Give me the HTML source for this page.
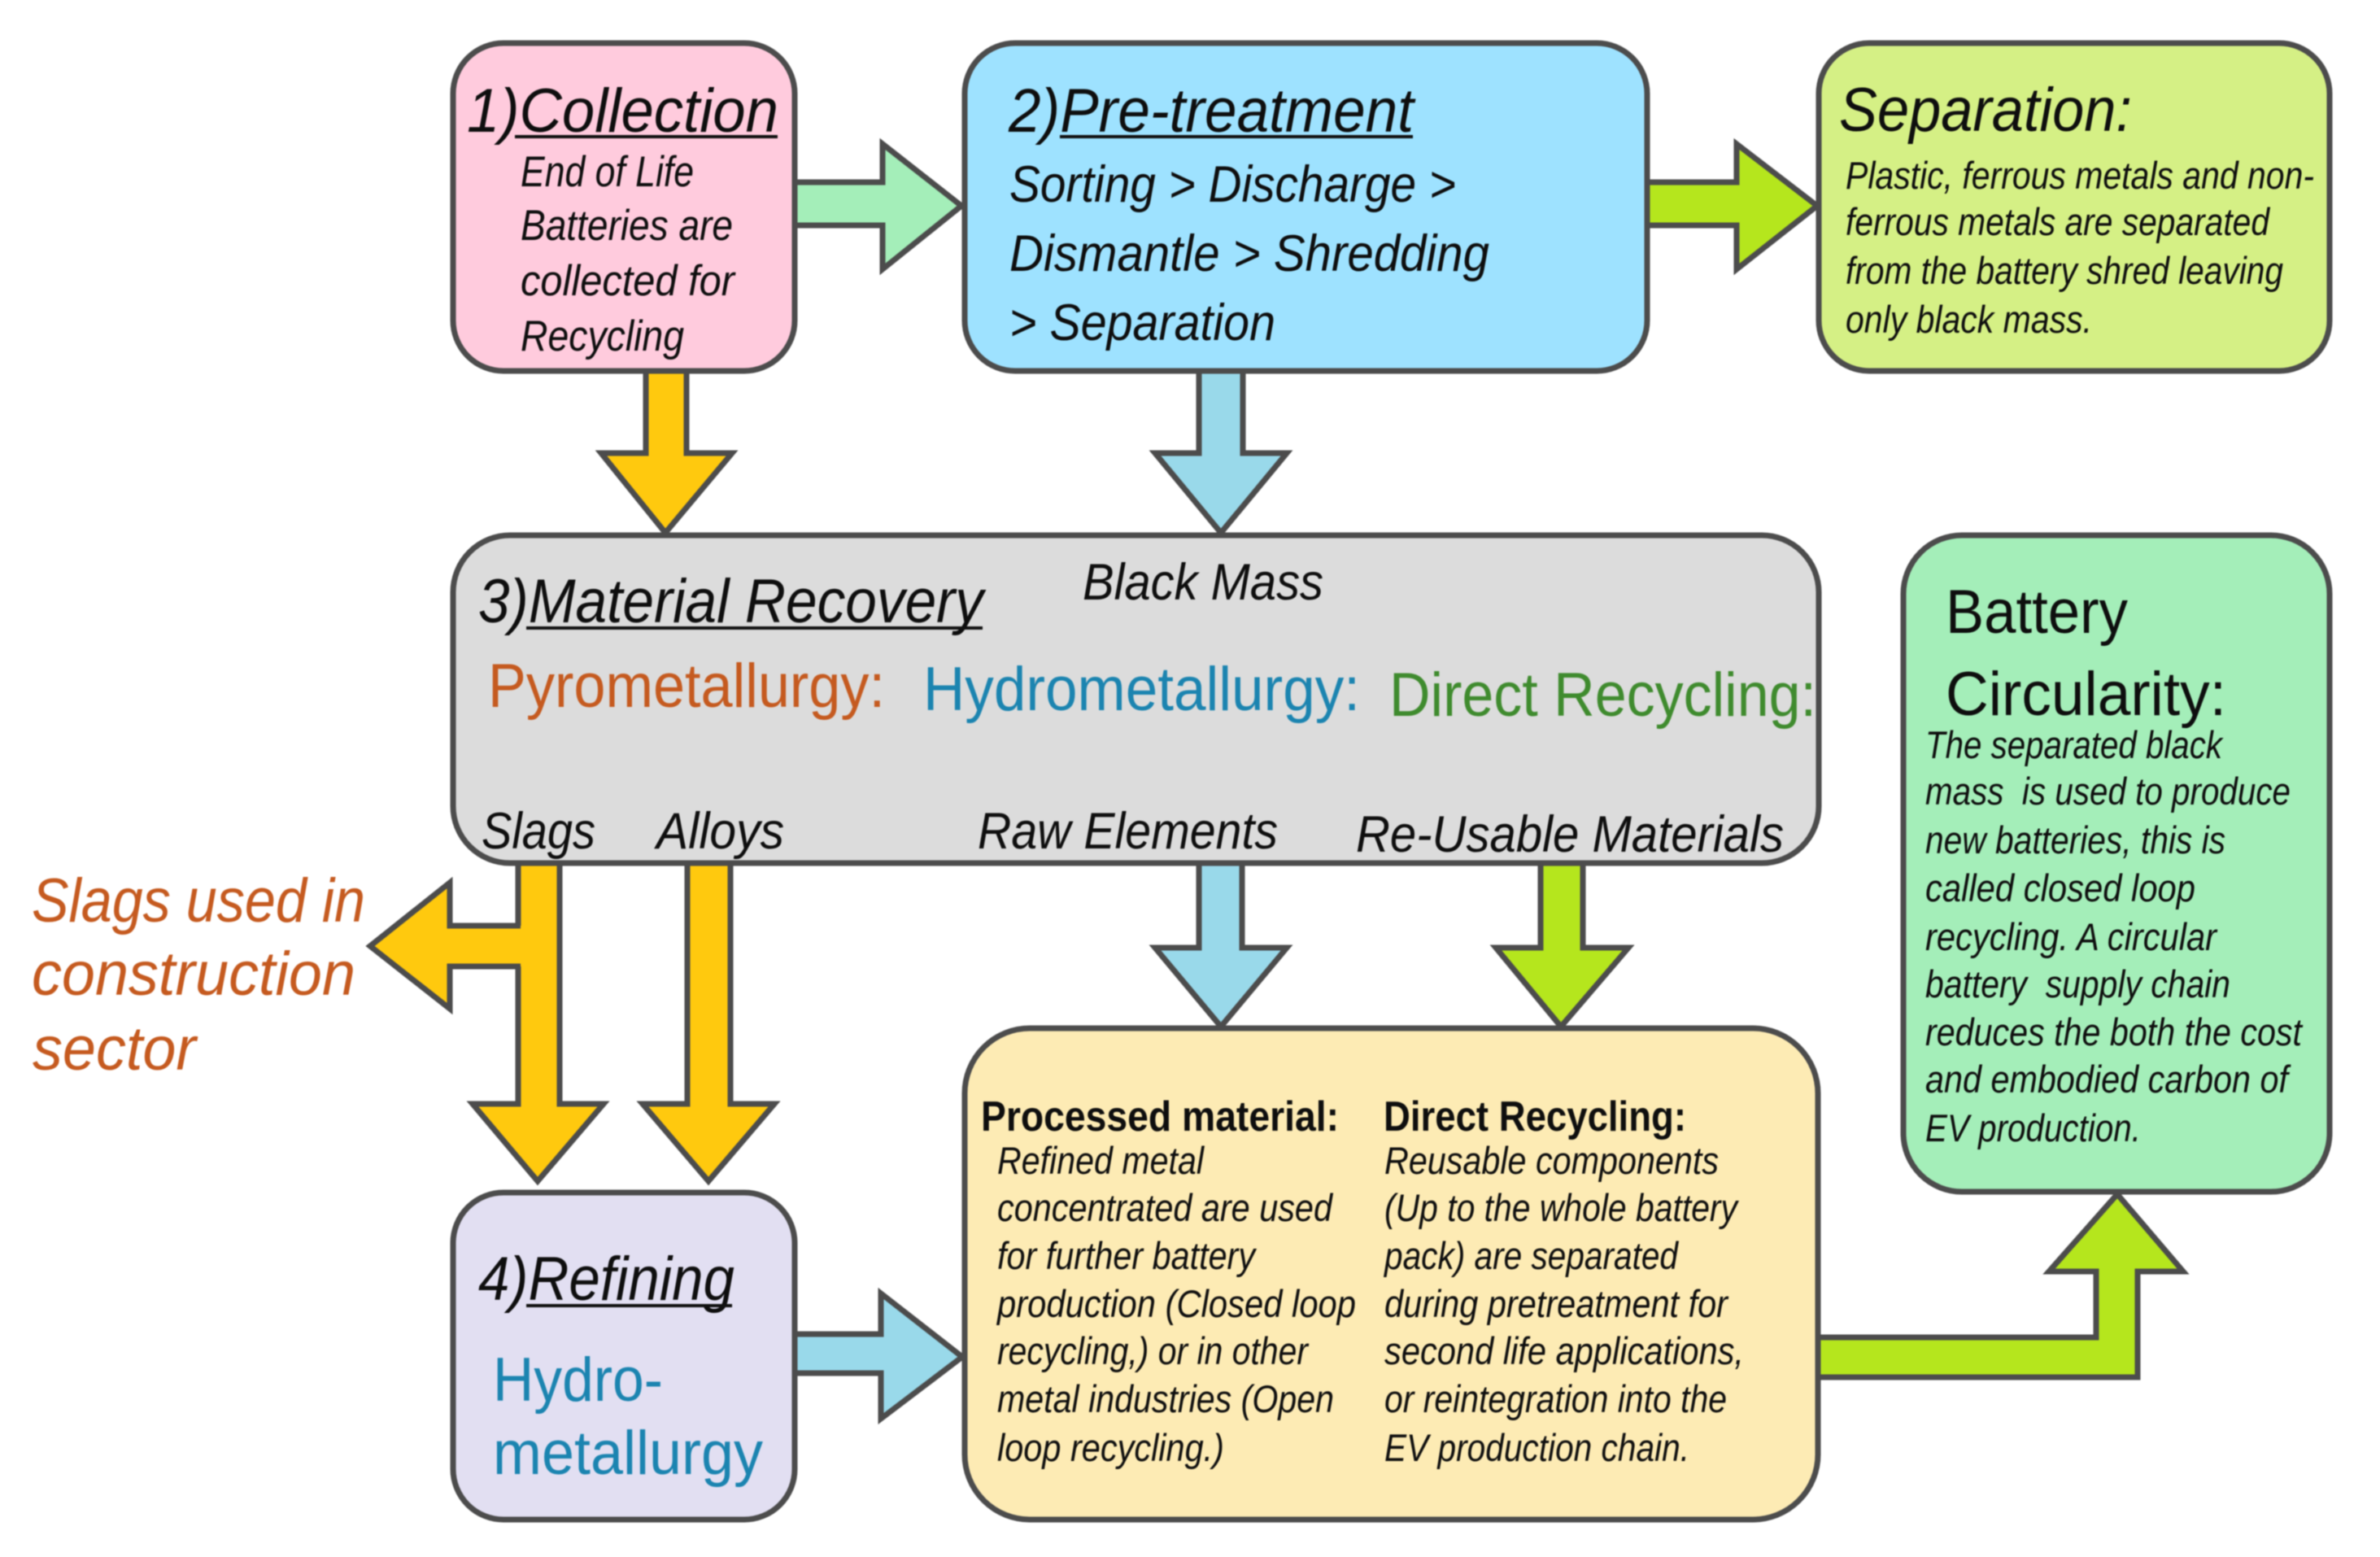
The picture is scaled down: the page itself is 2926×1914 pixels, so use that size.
<!DOCTYPE html>
<html lang="en">
<head>
<meta charset="utf-8">
<title>Battery recycling process</title>
<style>
html,body{margin:0;padding:0;background:#fff;width:2926px;height:1914px;overflow:hidden}
svg{display:block;filter:blur(.8px)}
text{font-family:"Liberation Sans",sans-serif;fill:#0e0e0e;white-space:pre}
.i{font-style:italic}
.h{font-size:76px;font-style:italic}
.m{font-size:63px;font-style:italic}
.s{font-size:53px;font-style:italic}
.t{font-size:47px;font-style:italic}
.a{stroke:#4c4c4c;stroke-width:7;stroke-linejoin:miter}
.b{stroke:#4c4c4c;stroke-width:7}
.u{stroke:#111;stroke-width:4}
</style>
</head>
<body>
<svg width="2926" height="1914" viewBox="0 0 2926 1914" xmlns="http://www.w3.org/2000/svg">
<rect width="2926" height="1914" fill="#fff"/>

<!-- arrows -->
<polygon class="a" fill="#A4EEB9" points="977,224 1085,224 1085,177 1182,253 1085,331 1085,277 977,277"/>
<polygon class="a" fill="#B5E61D" points="2025,224 2135,224 2135,177 2234,253 2135,331 2135,277 2025,277"/>
<polygon class="a" fill="#FFC90E" points="794,456 844,456 844,557 900,557 818,655 739,557 794,557"/>
<polygon class="a" fill="#99D9EA" points="1474,456 1528,456 1528,557 1582,557 1501,655 1420,557 1474,557"/>
<polygon class="a" fill="#FFC90E" points="637,1060 688,1060 688,1357 742,1357 661,1452 581,1357 637,1357"/>
<polygon class="a" fill="#FFC90E" points="845,1060 898,1060 898,1357 952,1357 871,1452 790,1357 845,1357"/>
<polygon fill="#FFC90E" points="645,1138 553,1138 553,1085 455,1163 553,1240 553,1188 645,1188"/>
<polyline class="a" fill="none" points="640,1138 553,1138 553,1085 455,1163 553,1240 553,1188 640,1188"/>
<polygon class="a" fill="#99D9EA" points="977,1640 1083,1640 1083,1590 1183,1668 1083,1744 1083,1688 977,1688"/>
<polygon class="a" fill="#99D9EA" points="1474,1060 1527,1060 1527,1165 1582,1165 1501,1262 1420,1165 1474,1165"/>
<polygon class="a" fill="#B5E61D" points="1894,1060 1946,1060 1946,1165 2002,1165 1919,1262 1839,1165 1894,1165"/>
<polygon class="a" fill="#B5E61D" points="2235,1644 2577,1644 2577,1563 2519,1563 2603,1468 2684,1563 2628,1563 2628,1693 2235,1693"/>

<!-- boxes -->
<rect class="b" x="557" y="53" width="420" height="403" rx="62" fill="#FFCBDD"/>
<rect class="b" x="1186" y="53" width="839" height="403" rx="62" fill="#9EE2FF"/>
<rect class="b" x="2236" y="53" width="628" height="403" rx="62" fill="#D5F085"/>
<rect class="b" x="557" y="658" width="1679" height="403" rx="70" fill="#DCDCDC"/>
<rect class="b" x="2340" y="658" width="524" height="807" rx="72" fill="#A4EEB9"/>
<rect class="b" x="557" y="1466" width="420" height="402" rx="62" fill="#E2DFF2"/>
<rect class="b" x="1186" y="1264" width="1049" height="604" rx="80" fill="#FDEBB4"/>

<!-- box 1 -->
<text class="h" x="574" y="162" textLength="383" lengthAdjust="spacingAndGlyphs">1)Collection</text>
<line class="u" x1="633" y1="168" x2="956" y2="168"/>
<text class="s" x="640" y="229" textLength="213" lengthAdjust="spacingAndGlyphs">End of Life</text>
<text class="s" x="640" y="295" textLength="261" lengthAdjust="spacingAndGlyphs">Batteries are</text>
<text class="s" x="640" y="363" textLength="263" lengthAdjust="spacingAndGlyphs">collected for</text>
<text class="s" x="640" y="431" textLength="201" lengthAdjust="spacingAndGlyphs">Recycling</text>

<!-- box 2 -->
<text class="h" x="1240" y="162" textLength="498" lengthAdjust="spacingAndGlyphs">2)Pre-treatment</text>
<line class="u" x1="1303" y1="168" x2="1737" y2="168"/>
<text class="m" x="1241" y="248" textLength="549" lengthAdjust="spacingAndGlyphs">Sorting &gt; Discharge &gt;</text>
<text class="m" x="1241" y="333" textLength="590" lengthAdjust="spacingAndGlyphs">Dismantle &gt; Shredding</text>
<text class="m" x="1241" y="418" textLength="327" lengthAdjust="spacingAndGlyphs">&gt; Separation</text>

<!-- separation -->
<text class="h" x="2261" y="161" textLength="360" lengthAdjust="spacingAndGlyphs">Separation:</text>
<text class="t" x="2269" y="232" textLength="576" lengthAdjust="spacingAndGlyphs">Plastic, ferrous metals and non-</text>
<text class="t" x="2269" y="289" textLength="521" lengthAdjust="spacingAndGlyphs">ferrous metals are separated</text>
<text class="t" x="2269" y="349" textLength="538" lengthAdjust="spacingAndGlyphs">from the battery shred leaving</text>
<text class="t" x="2269" y="409" textLength="303" lengthAdjust="spacingAndGlyphs">only black mass.</text>

<!-- box 3 -->
<text class="h" x="588" y="765" textLength="621" lengthAdjust="spacingAndGlyphs">3)Material Recovery</text>
<line class="u" x1="647" y1="772" x2="1208" y2="772"/>
<text class="m" x="1331" y="737" textLength="296" lengthAdjust="spacingAndGlyphs">Black Mass</text>
<text x="600" y="869" font-size="76" style="fill:#C55A1F" textLength="488" lengthAdjust="spacingAndGlyphs">Pyrometallurgy:</text>
<text x="1135" y="873" font-size="76" style="fill:#1B84B0" textLength="537" lengthAdjust="spacingAndGlyphs">Hydrometallurgy:</text>
<text x="1708" y="880" font-size="76" style="fill:#3F8B2E" textLength="525" lengthAdjust="spacingAndGlyphs">Direct Recycling:</text>
<text class="m" x="592" y="1043" textLength="140" lengthAdjust="spacingAndGlyphs">Slags</text>
<text class="m" x="807" y="1043" textLength="157" lengthAdjust="spacingAndGlyphs">Alloys</text>
<text class="m" x="1202" y="1043" textLength="369" lengthAdjust="spacingAndGlyphs">Raw Elements</text>
<text class="m" x="1667" y="1047" textLength="526" lengthAdjust="spacingAndGlyphs">Re-Usable Materials</text>

<!-- slags -->
<text class="h" x="39" y="1133" style="fill:#C55A1F" textLength="410" lengthAdjust="spacingAndGlyphs">Slags used in</text>
<text class="h" x="39" y="1223" style="fill:#C55A1F" textLength="398" lengthAdjust="spacingAndGlyphs">construction</text>
<text class="h" x="40" y="1315" style="fill:#C55A1F" textLength="201" lengthAdjust="spacingAndGlyphs">sector</text>

<!-- box 4 -->
<text class="h" x="588" y="1598" textLength="315" lengthAdjust="spacingAndGlyphs">4)Refining</text>
<line class="u" x1="647" y1="1605" x2="900" y2="1605"/>
<text x="606" y="1722" font-size="76" style="fill:#1B84B0" textLength="209" lengthAdjust="spacingAndGlyphs">Hydro-</text>
<text x="606" y="1812" font-size="76" style="fill:#1B84B0" textLength="332" lengthAdjust="spacingAndGlyphs">metallurgy</text>

<!-- yellow box -->
<text x="1206" y="1390" font-size="52" font-weight="bold" textLength="440" lengthAdjust="spacingAndGlyphs">Processed material:</text>
<text x="1701" y="1390" font-size="52" font-weight="bold" textLength="372" lengthAdjust="spacingAndGlyphs">Direct Recycling:</text>
<text class="t" x="1226" y="1443" textLength="254" lengthAdjust="spacingAndGlyphs">Refined metal</text>
<text class="t" x="1226" y="1501" textLength="412" lengthAdjust="spacingAndGlyphs">concentrated are used</text>
<text class="t" x="1226" y="1560" textLength="317" lengthAdjust="spacingAndGlyphs">for further battery</text>
<text class="t" x="1226" y="1619" textLength="441" lengthAdjust="spacingAndGlyphs">production (Closed loop</text>
<text class="t" x="1226" y="1677" textLength="382" lengthAdjust="spacingAndGlyphs">recycling,) or in other</text>
<text class="t" x="1226" y="1736" textLength="414" lengthAdjust="spacingAndGlyphs">metal industries (Open</text>
<text class="t" x="1226" y="1796" textLength="279" lengthAdjust="spacingAndGlyphs">loop recycling.)</text>
<text class="t" x="1702" y="1443" textLength="411" lengthAdjust="spacingAndGlyphs">Reusable components</text>
<text class="t" x="1702" y="1501" textLength="434" lengthAdjust="spacingAndGlyphs">(Up to the whole battery</text>
<text class="t" x="1702" y="1560" textLength="361" lengthAdjust="spacingAndGlyphs">pack) are separated</text>
<text class="t" x="1702" y="1619" textLength="422" lengthAdjust="spacingAndGlyphs">during pretreatment for</text>
<text class="t" x="1702" y="1677" textLength="442" lengthAdjust="spacingAndGlyphs">second life applications,</text>
<text class="t" x="1702" y="1736" textLength="421" lengthAdjust="spacingAndGlyphs">or reintegration into the</text>
<text class="t" x="1702" y="1796" textLength="375" lengthAdjust="spacingAndGlyphs">EV production chain.</text>

<!-- battery circularity -->
<text x="2392" y="778" font-size="76" textLength="224" lengthAdjust="spacingAndGlyphs">Battery</text>
<text x="2392" y="879" font-size="76" textLength="345" lengthAdjust="spacingAndGlyphs">Circularity:</text>
<text class="t" x="2367" y="932" textLength="365" lengthAdjust="spacingAndGlyphs">The separated black</text>
<text class="t" x="2367" y="989" textLength="449" lengthAdjust="spacingAndGlyphs">mass  is used to produce</text>
<text class="t" x="2367" y="1049" textLength="369" lengthAdjust="spacingAndGlyphs">new batteries, this is</text>
<text class="t" x="2367" y="1108" textLength="332" lengthAdjust="spacingAndGlyphs">called closed loop</text>
<text class="t" x="2367" y="1168" textLength="358" lengthAdjust="spacingAndGlyphs">recycling. A circular</text>
<text class="t" x="2367" y="1226" textLength="375" lengthAdjust="spacingAndGlyphs">battery  supply chain</text>
<text class="t" x="2367" y="1285" textLength="463" lengthAdjust="spacingAndGlyphs">reduces the both the cost</text>
<text class="t" x="2367" y="1343" textLength="446" lengthAdjust="spacingAndGlyphs">and embodied carbon of</text>
<text class="t" x="2367" y="1403" textLength="265" lengthAdjust="spacingAndGlyphs">EV production.</text>
</svg>
</body>
</html>
